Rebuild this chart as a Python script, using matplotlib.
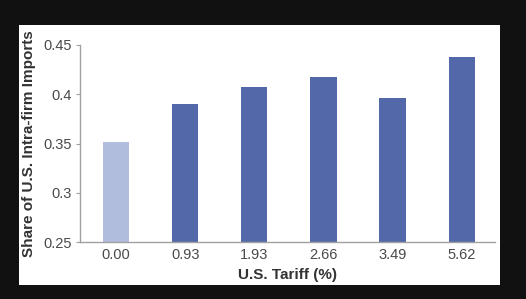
import matplotlib.pyplot as plt
from matplotlib.patches import Rectangle

# tariff bins and share of intra-firm imports
tariffs = ['0.00', '0.93', '1.93', '2.66', '3.49', '5.62']
shares = [0.352, 0.390, 0.407, 0.418, 0.396, 0.438]
y_ticks = [0.25, 0.3, 0.35, 0.4, 0.45]
y_tick_labels = ['0.25', '0.3', '0.35', '0.4', '0.45']

plt.rcParams['font.family'] = ['Liberation Sans', 'DejaVu Sans']

fig = plt.figure(figsize=(5.26, 2.99), dpi=100)
fig.patch.set_facecolor('#111111')

# white panel behind the chart
fig.patches.append(Rectangle((19 / 526, 1 - 285 / 299), 481 / 526, 260 / 299,
                             transform=fig.transFigure, facecolor='white',
                             edgecolor='none', zorder=-10))

ax = fig.add_axes([80 / 526, 1 - 242 / 299, 415 / 526, 197 / 299])
ax.set_facecolor('none')

colors = ['#b1bddd'] + ['#5368a9'] * (len(tariffs) - 1)
x = list(range(len(tariffs)))
ax.bar(x, shares, width=0.38, color=colors, zorder=2)

ax.set_xlim(-0.52, 5.48)
ax.set_ylim(0.25, 0.45)
ax.set_xticks(x)
ax.set_xticklabels(tariffs)
ax.set_yticks(y_ticks)
ax.set_yticklabels(y_tick_labels)

for side in ['top', 'right']:
    ax.spines[side].set_visible(False)
for side in ['left', 'bottom']:
    ax.spines[side].set_color('#a0a0a0')
    ax.spines[side].set_linewidth(1.0)

ax.tick_params(axis='x', length=0, pad=4, labelsize=10.5, labelcolor='#4a4a4a')
ax.tick_params(axis='y', length=3, color='#a0a0a0', pad=3, labelsize=10.5,
               labelcolor='#4a4a4a')

ax.set_xlabel('U.S. Tariff (%)', fontsize=11, fontweight='bold',
              color='#333333', labelpad=5)
ax.set_ylabel('Share of U.S. Intra-firm Imports', fontsize=11, fontweight='bold',
              color='#333333', labelpad=5)

fig.savefig('out.png', dpi=100, facecolor=fig.get_facecolor())
